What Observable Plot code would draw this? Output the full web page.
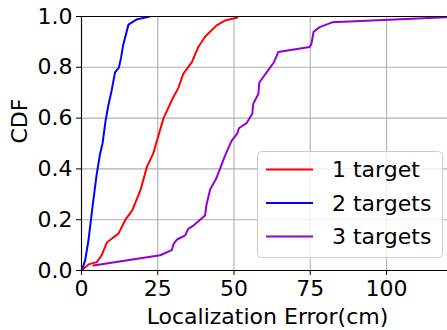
<!DOCTYPE html>
<html>
<head>
<meta charset="utf-8">
<script src="https://cdn.jsdelivr.net/npm/d3@7"></script>
<script src="https://cdn.jsdelivr.net/npm/@observablehq/plot@0.6"></script>
<style>
html, body { margin: 0; padding: 0; background: #fff; }
#chart svg { display: block; }
</style>
</head>
<body>
<div id="chart"></div>
<script>
// Series: localization error (cm) and CDF values
const seriesNames = ["1 target", "2 targets", "3 targets"];
const seriesColors = ["#ff0000", "#0000ff", "#9400d3"];

const x1 = [0, 2.3, 5, 6.6, 8.3, 9.9, 12.1, 14.4, 16.6, 19.3, 21.5, 23.5, 24.7, 26.9, 29.6, 31.8, 33.4, 36.2, 38.3, 40.5, 44.3, 47, 50.9, 51.3];
const y1 = [0, 0.024, 0.033, 0.06, 0.11, 0.125, 0.145, 0.2, 0.236, 0.315, 0.41, 0.46, 0.51, 0.60, 0.67, 0.72, 0.775, 0.82, 0.88, 0.92, 0.965, 0.984, 0.995, 1.0];

const x2 = [0, 0.1, 1.2, 2.3, 3.6, 5.0, 6.1, 6.9, 7.9, 8.8, 9.9, 11, 12.3, 13, 13.7, 15.4, 18, 22.4];
const y2 = [0, 0, 0.04, 0.12, 0.25, 0.38, 0.46, 0.50, 0.59, 0.65, 0.71, 0.78, 0.80, 0.84, 0.89, 0.968, 0.988, 1.0];

const x3 = [3.9, 25.8, 29.6, 30.2, 31.3, 34, 35, 36.7, 40.5, 41, 42.2, 44.1, 45.4, 47, 49.2, 51.1, 51.6, 54.1, 56, 56.3, 58, 58.3, 60.7, 63.1, 64.5, 74.8, 75.4, 76.1, 78.1, 82.2, 119.5, 125];
const y3 = [0.02, 0.06, 0.08, 0.105, 0.122, 0.138, 0.164, 0.177, 0.217, 0.26, 0.32, 0.36, 0.40, 0.45, 0.51, 0.54, 0.56, 0.58, 0.617, 0.656, 0.696, 0.74, 0.78, 0.82, 0.86, 0.88, 0.893, 0.94, 0.958, 0.977, 0.997, 1.0];

const xTicks = [0, 25, 50, 75, 100];
const yTicks = [0, 0.2, 0.4, 0.6, 0.8, 1.0];
const xLabel = "Localization Error(cm)";
const yLabel = "CDF";

const toRows = (xs, ys, name) => xs.map((v, i) => ({x: v, y: ys[i], series: name}));
const rows = [
  ...toRows(x1, y1, seriesNames[0]),
  ...toRows(x2, y2, seriesNames[1]),
  ...toRows(x3, y3, seriesNames[2])
];

const W = 447, H = 330;
const mL = 81, mT = 16, mB = 60, mR = 0;
const font = "DejaVu Sans, sans-serif";

const plot = Plot.plot({
  width: W,
  height: H,
  marginLeft: mL,
  marginTop: mT,
  marginBottom: mB,
  marginRight: mR,
  style: {fontFamily: font, fontSize: "22px", background: "#fff", color: "#000"},
  x: {domain: [0, 120]},
  y: {domain: [0, 1]},
  color: {domain: seriesNames, range: seriesColors},
  marks: [
    Plot.gridX(xTicks, {stroke: "#b0b0b0", strokeOpacity: 1, strokeWidth: 1.1}),
    Plot.gridY(yTicks, {stroke: "#b0b0b0", strokeOpacity: 1, strokeWidth: 1.1}),
    Plot.line(rows, {x: "x", y: "y", z: "series", stroke: "series", strokeWidth: 2, clip: true}),
    Plot.ruleY([0, 1], {stroke: "#000", strokeWidth: 1.1}),
    Plot.ruleX([0], {stroke: "#000", strokeWidth: 1.1}),
    Plot.axisX(xTicks, {label: null, tickSize: 5, tickPadding: 5, fontSize: 22, stroke: "#000"}),
    Plot.axisY(yTicks, {label: null, tickSize: 5, tickPadding: 4, fontSize: 22, tickFormat: d3.format(".1f"), stroke: "#000"}),
    Plot.text([xLabel], {frameAnchor: "bottom", lineAnchor: "middle", dx: 3, dy: 46, fontSize: 22, fill: "#000"}),
    Plot.text([yLabel], {frameAnchor: "left", lineAnchor: "middle", dx: -62, rotate: -90, fontSize: 22, fill: "#000"})
  ]
});

document.getElementById("chart").appendChild(plot);

// Legend inside the plot (lower right), as in the reference
const svg = d3.select(plot);
const lg = svg.append("g").attr("font-family", font).attr("font-size", 22).attr("text-anchor", "start");
lg.append("rect")
  .attr("x", 257.5).attr("y", 151.5).attr("width", 185).attr("height", 106)
  .attr("rx", 4).attr("fill", "#fff").attr("fill-opacity", 0.8)
  .attr("stroke", "#cccccc").attr("stroke-width", 1);
const rowY = [169.5, 203, 236.5];
seriesNames.forEach((name, i) => {
  lg.append("line").attr("x1", 266).attr("x2", 313).attr("y1", rowY[i]).attr("y2", rowY[i])
    .attr("stroke", seriesColors[i]).attr("stroke-width", 2);
  lg.append("text").attr("x", 332).attr("y", rowY[i]).attr("dy", "0.35em")
    .attr("text-anchor", "start").attr("fill", "#000").text(name);
});
</script>
</body>
</html>
